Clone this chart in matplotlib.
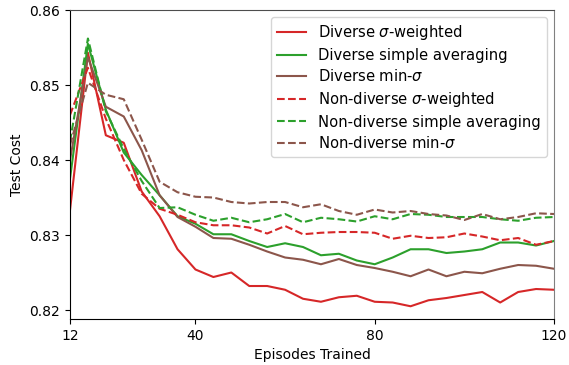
import matplotlib
matplotlib.use('Agg')
import matplotlib.pyplot as plt
import numpy as np

episodes = list(range(12, 121, 4))

div_weighted = [0.8333, 0.8543, 0.8433, 0.8423, 0.8358, 0.8325, 0.8281, 0.8254,
                0.8244, 0.8250, 0.8232, 0.8232, 0.8227, 0.8215, 0.8211, 0.8217,
                0.8219, 0.8211, 0.8210, 0.8205, 0.8213, 0.8216, 0.8220, 0.8224,
                0.8210, 0.8224, 0.8228, 0.8227]
div_simple = [0.8375, 0.8555, 0.8467, 0.8410, 0.8380, 0.8353, 0.8325, 0.8315,
              0.8301, 0.8301, 0.8292, 0.8284, 0.8289, 0.8284, 0.8273, 0.8275,
              0.8266, 0.8261, 0.8270, 0.8281, 0.8281, 0.8276, 0.8278, 0.8281,
              0.8290, 0.8290, 0.8286, 0.8292]
div_min = [0.8400, 0.8537, 0.8471, 0.8458, 0.8413, 0.8353, 0.8324, 0.8311,
           0.8296, 0.8295, 0.8287, 0.8278, 0.8270, 0.8267, 0.8261, 0.8268,
           0.8260, 0.8256, 0.8251, 0.8245, 0.8254, 0.8245, 0.8251, 0.8249,
           0.8255, 0.8260, 0.8259, 0.8255]
nondiv_weighted = [0.8460, 0.8523, 0.8455, 0.8400, 0.8355, 0.8335, 0.8327, 0.8317,
                   0.8313, 0.8313, 0.8310, 0.8302, 0.8312, 0.8301, 0.8303, 0.8304,
                   0.8304, 0.8303, 0.8295, 0.8299, 0.8296, 0.8297, 0.8302, 0.8298,
                   0.8293, 0.8296, 0.8287, 0.8292]
nondiv_simple = [0.8425, 0.8562, 0.8465, 0.8415, 0.8372, 0.8336, 0.8337, 0.8327,
                 0.8319, 0.8323, 0.8317, 0.8321, 0.8328, 0.8317, 0.8323, 0.8321,
                 0.8318, 0.8325, 0.8321, 0.8328, 0.8327, 0.8324, 0.8324, 0.8324,
                 0.8321, 0.8319, 0.8323, 0.8324]
nondiv_min = [0.8420, 0.8503, 0.8487, 0.8481, 0.8427, 0.8371, 0.8357, 0.8351,
              0.8350, 0.8344, 0.8342, 0.8344, 0.8344, 0.8337, 0.8341, 0.8332,
              0.8327, 0.8334, 0.8330, 0.8332, 0.8328, 0.8326, 0.8320, 0.8328,
              0.8321, 0.8324, 0.8329, 0.8328]

fig = plt.figure(figsize=(5.69, 3.65), dpi=100)
ax = fig.add_axes([0.123, 0.126, 0.8506, 0.8466])

ax.plot(episodes, div_weighted, color='tab:red', label=r'Diverse $\sigma$-weighted')
ax.plot(episodes, div_simple, color='tab:green', label='Diverse simple averaging')
ax.plot(episodes, div_min, color='tab:brown', label=r'Diverse min-$\sigma$')
ax.plot(episodes, nondiv_weighted, '--', color='tab:red', label=r'Non-diverse $\sigma$-weighted')
ax.plot(episodes, nondiv_simple, '--', color='tab:green', label='Non-diverse simple averaging')
ax.plot(episodes, nondiv_min, '--', color='tab:brown', label=r'Non-diverse min-$\sigma$')

ax.set_xlim(12, 120)
ax.set_ylim(0.8188, 0.86)
ax.set_xticks([12, 40, 80, 120])
ax.set_yticks([0.82, 0.83, 0.84, 0.85, 0.86])
ax.set_xlabel('Episodes Trained')
ax.set_ylabel('Test Cost')
ax.spines['top'].set_color('0.3')
ax.spines['right'].set_color('0.5')
ax.legend(loc='upper right', fontsize=10.6, labelspacing=0.38)

fig.savefig('out.png', dpi=100)
